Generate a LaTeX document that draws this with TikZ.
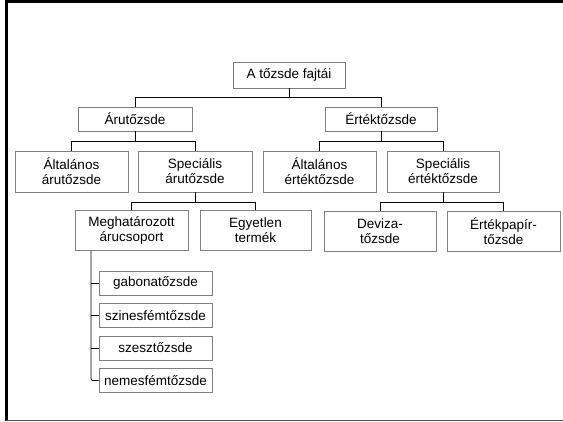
\documentclass[tikz,border=0pt]{standalone}
\usepackage{fontspec}
\setmainfont{Liberation Sans}
\definecolor{boxgray}{RGB}{128,128,128}
\definecolor{framegray}{RGB}{80,80,80}
\begin{document}
\begin{tikzpicture}[x=1pt,y=-1pt,
  box/.style={draw=boxgray,line width=0.9pt,fill=white,
    align=center,inner sep=0pt,font=\fontsize{13.5}{15}\selectfont},
  conn/.style={draw=black,line width=0.9pt}]
\useasboundingbox (0,0) rectangle (563,422);
% frame
\draw[line width=3pt,black] (6,1) -- (6,421.5);
\draw[line width=3pt,black] (4.5,2) -- (563,2);
\draw[line width=1.6pt,framegray] (6,420.5) -- (563,420.5);
% nodes
\node[box,minimum width=112pt,minimum height=26pt] (root) at (289,75) {A tőzsde fajtái};
\node[box,minimum width=114pt,minimum height=24pt] (aru) at (135,119) {Árutőzsde};
\node[box,minimum width=112pt,minimum height=24pt] (ertek) at (381,119) {Értéktőzsde};
\node[box,minimum width=113pt,minimum height=41pt] (altaru) at (71.5,171.5) {Általános\\árutőzsde};
\node[box,minimum width=114pt,minimum height=41pt] (specaru) at (195,171.5) {Speciális\\árutőzsde};
\node[box,minimum width=113pt,minimum height=41pt] (altertek) at (319.5,171.5) {Általános\\értéktőzsde};
\node[box,minimum width=112pt,minimum height=41pt] (specertek) at (443,171.5) {Speciális\\értéktőzsde};
\node[box,minimum width=113pt,minimum height=40pt] (megh) at (131.5,230.5) {Meghatározott\\árucsoport};
\node[box,minimum width=111pt,minimum height=40pt] (egy) at (255.5,230.5) {Egyetlen\\termék};
\node[box,minimum width=112pt,minimum height=40pt] (dev) at (380,231) {Deviza-\\tőzsde};
\node[box,minimum width=113pt,minimum height=40pt] (ep) at (503.5,231) {Értékpapír-\\tőzsde};
\node[box,minimum width=113pt,minimum height=24pt] (g1) at (155.5,283) {gabonatőzsde};
\node[box,minimum width=113pt,minimum height=24pt] (g2) at (155.5,315.5) {szinesfémtőzsde};
\node[box,minimum width=113pt,minimum height=24pt] (g3) at (155.5,348) {szesztőzsde};
\node[box,minimum width=113pt,minimum height=24pt] (g4) at (155.5,380.5) {nemesfémtőzsde};
% connectors
\draw[conn] (root.south) -- ++(0,9) coordinate (b0);
\draw[conn] (b0) -| (aru.north);
\draw[conn] (b0) -| (ertek.north);
\draw[conn] (aru.south) -- ++(0,10) coordinate (b1);
\draw[conn] (b1) -| (altaru.north);
\draw[conn] (b1) -| (specaru.north);
\draw[conn] (ertek.south) -- ++(0,10) coordinate (b2);
\draw[conn] (b2) -| (altertek.north);
\draw[conn] (b2) -| (specertek.north);
\draw[conn] (specaru.south) -- ++(0,10) coordinate (b3);
\draw[conn] (b3) -| (megh.north);
\draw[conn] (b3) -| (egy.north);
\draw[conn] (specertek.south) -- ++(0,10) coordinate (b4);
\draw[conn] (b4) -| (dev.north);
\draw[conn] (b4) -| (ep.north);
\coordinate (tr) at (91,0);
\draw[conn,rounded corners=2pt] (megh.south -| tr) |- (g4.west);
\draw[conn] (g1.west -| tr) -- (g1.west);
\draw[conn] (g2.west -| tr) -- (g2.west);
\draw[conn] (g3.west -| tr) -- (g3.west);
\end{tikzpicture}
\end{document}
